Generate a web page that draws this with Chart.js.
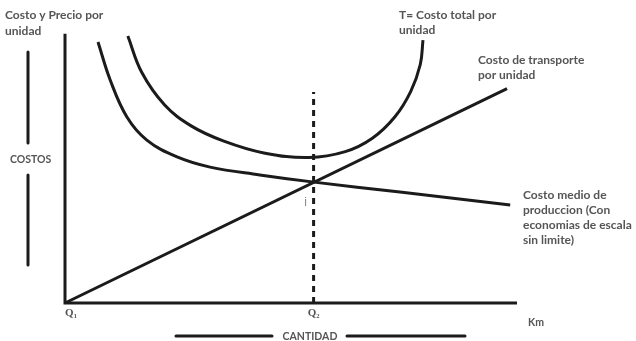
<!DOCTYPE html>
<html>
<head>
<meta charset="utf-8">
<script src="https://cdn.jsdelivr.net/npm/chart.js@4/dist/chart.umd.min.js"></script>
<style>
html,body{margin:0;padding:0;background:#fff;}
#wrap{width:636px;height:341px;position:relative;}
</style>
</head>
<body>
<div id="wrap"><canvas id="c" width="636" height="341"></canvas></div>
<script>
// Data (x = cantidad, y = costo, arbitrary units 0..100)
const transportX = [0, 97.8];
const transportY = [0, 80];
const avgProdX = [7.3, 10, 13.7, 18.1, 24.8, 32.1, 43.1, 55.1, 74.1, 98.5];
const avgProdY = [97.4, 83.2, 69.4, 60.8, 54.5, 50.7, 47.8, 45.1, 41.4, 36.6];
const totalX = [13.9, 17, 22, 28, 35, 44, 54, 62, 68, 73, 76.5, 78.6, 79.2];
const totalY = [99.6, 86, 74, 66, 60.5, 56, 54.3, 56.5, 61.5, 69.5, 79, 89, 98.1];
const q2 = 55;
const q2LineTop = 78.7;
const axisX = [0, 0, 100];
const axisY = [100.5, 0, 0];
const xTickLabels = ["Q\u2081", "Q\u2082"];
const xTickValues = [0, q2];

const pts = (xs, ys) => xs.map((x, i) => ({x: x, y: ys[i]}));
const ink = '#1b1b1b';
const txt = '#555555';

const annot = {
  id: 'annot',
  afterDraw(chart) {
    const ctx = chart.ctx;
    const xs = chart.scales.x, ys = chart.scales.y;
    ctx.save();
    ctx.fillStyle = txt;
    ctx.textBaseline = 'alphabetic';
    ctx.font = 'bold 12px Lato, "Open Sans", sans-serif';
    ctx.textAlign = 'left';
    ctx.fillText('Costo y Precio por', 5, 19);
    ctx.fillText('unidad', 5, 35);
    ctx.fillText('T= Costo total por', 399, 19);
    ctx.fillText('unidad', 399, 34);
    ctx.fillText('Costo de transporte', 478, 64);
    ctx.fillText('por unidad', 478, 79);
    ctx.fillText('Costo medio de', 523, 199);
    ctx.fillText('produccion (Con', 523, 214);
    ctx.fillText('economias de escala', 523, 229);
    ctx.fillText('sin limite)', 523, 244);
    ctx.font = 'bold 10.5px Lato, "Open Sans", sans-serif';
    ctx.fillText('COSTOS', 10, 163);
    ctx.fillText('Km', 528, 326);
    ctx.textAlign = 'center';
    ctx.fillText('CANTIDAD', 310, 340);
    // x tick labels
    ctx.font = 'bold 11px "Liberation Serif", serif';
    xTickLabels.forEach((l, i) => {
      ctx.fillText(l, xs.getPixelForValue(xTickValues[i]) + (i === 0 ? 6 : 0), ys.getPixelForValue(0) + 13);
    });
    // small mark
    ctx.font = '12px "Liberation Sans", sans-serif';
    ctx.fillStyle = '#888';
    ctx.fillText('i', xs.getPixelForValue(q2) - 8, ys.getPixelForValue(q2LineTop) + 114);
    // decoration bars
    ctx.strokeStyle = ink;
    ctx.lineWidth = 3;
    ctx.lineCap = 'round';
    const seg = (x1, y1, x2, y2) => { ctx.beginPath(); ctx.moveTo(x1, y1); ctx.lineTo(x2, y2); ctx.stroke(); };
    seg(28, 52, 28, 143);
    seg(28, 175, 28, 265);
    seg(176, 336, 272, 336);
    seg(347, 336, 465, 336);
    ctx.restore();
  }
};

new Chart(document.getElementById('c'), {
  type: 'scatter',
  data: {
    datasets: [
      {data: pts(axisX, axisY), showLine: true, borderColor: ink, borderWidth: 3, pointRadius: 0, tension: 0, clip: false, borderJoinStyle: 'miter'},
      {data: pts(transportX, transportY), showLine: true, borderColor: ink, borderWidth: 3, pointRadius: 0, clip: false},
      {data: pts(avgProdX, avgProdY), showLine: true, borderColor: ink, borderWidth: 3, pointRadius: 0, tension: 0.4, clip: false},
      {data: pts(totalX, totalY), showLine: true, borderColor: ink, borderWidth: 3, pointRadius: 0, tension: 0.4, clip: false},
      {data: [{x: q2, y: 0}, {x: q2, y: q2LineTop}], showLine: true, borderColor: ink, borderWidth: 3, borderDash: [6, 5], pointRadius: 0, clip: false}
    ]
  },
  options: {
    responsive: false,
    animation: false,
    layout: {padding: {left: 65, right: 119, top: 35, bottom: 38}},
    plugins: {legend: {display: false}, tooltip: {enabled: false}},
    scales: {
      x: {type: 'linear', min: 0, max: 100, display: false},
      y: {type: 'linear', min: 0, max: 100, display: false}
    }
  },
  plugins: [annot]
});
</script>
</body>
</html>
